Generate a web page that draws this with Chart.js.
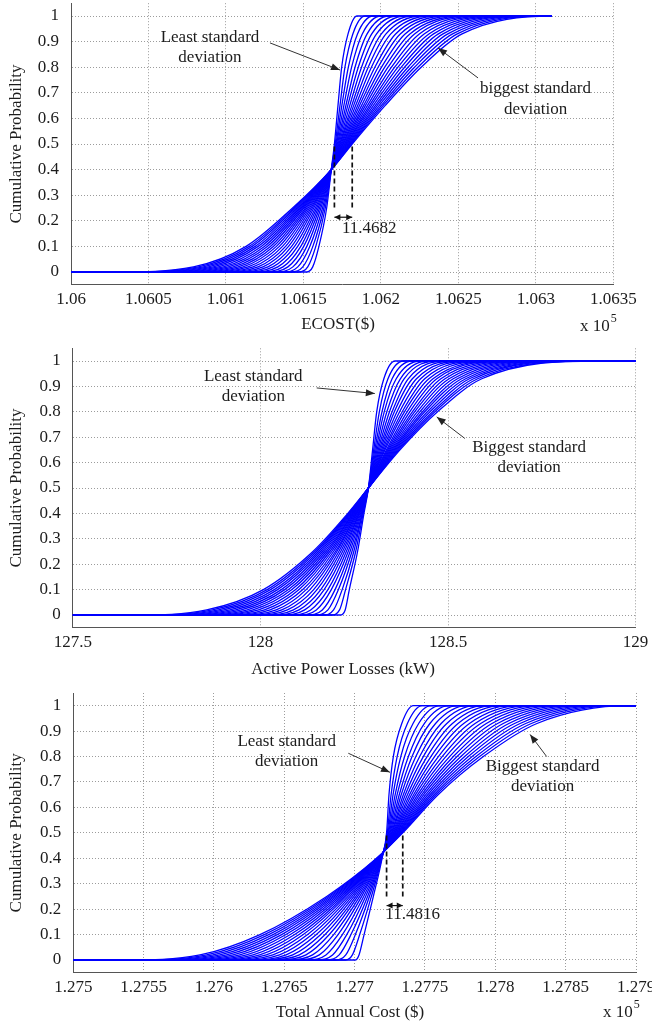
<!DOCTYPE html>
<html><head><meta charset="utf-8">
<script src="https://cdn.jsdelivr.net/npm/chart.js@4.4.0/dist/chart.umd.min.js"></script>
<style>
html,body{margin:0;padding:0;background:#fff;}
body{width:652px;height:1023px;position:relative;overflow:hidden;}
canvas{position:absolute;left:0;}
</style></head><body>
<canvas id="c1" width="652" height="340" style="top:0px"></canvas>
<canvas id="c2" width="652" height="345" style="top:340px"></canvas>
<canvas id="c3" width="652" height="338" style="top:685px"></canvas>
<script>
// ---------- DATA ----------
// cumulative probability levels at which the curves were read
const probLevels = [0, 0.02, 0.1, 0.25, 0.4, 0.5, 0.65, 0.8, 0.93, 1];
const probTicks = [0, 0.1, 0.2, 0.3, 0.4, 0.5, 0.6, 0.7, 0.8, 0.9, 1];
const probTickLabels = ['0', '0.1', '0.2', '0.3', '0.4', '0.5', '0.6', '0.7', '0.8', '0.9', '1'];

// Panel 1: ECOST ($). Each row = x of the 25 curves (least -> biggest std) at one probability level
const ecostTicks = [106000, 106050, 106100, 106150, 106200, 106250, 106300, 106350];
const ecostTickLabels = ['1.06', '1.0605', '1.061', '1.0615', '1.062', '1.0625', '1.063', '1.0635'];
const ecostTail = [106000, 106310.2];
const ecostAtLevel = [
  [106152, 106146.9, 106141.8, 106136.8, 106131.7, 106126.6, 106121.5, 106116.4, 106111.3, 106106.3, 106101.2, 106096.1, 106091, 106085.9, 106080.8, 106075.8, 106070.7, 106065.6, 106060.5, 106055.4, 106050.3, 106045.3, 106040.2, 106035.1, 106030],
  [106156, 106152.8, 106149.6, 106146.4, 106143.2, 106140, 106136.8, 106133.5, 106130.3, 106127.1, 106123.9, 106120.7, 106117.5, 106114.3, 106111.1, 106107.9, 106104.7, 106101.5, 106098.3, 106095, 106091.8, 106088.6, 106085.4, 106082.2, 106079],
  [106160, 106158, 106156.1, 106154.1, 106152.2, 106150.2, 106148.3, 106146.3, 106144.3, 106142.4, 106140.4, 106138.5, 106136.5, 106134.5, 106132.6, 106130.6, 106128.7, 106126.7, 106124.8, 106122.8, 106120.8, 106118.9, 106116.9, 106115, 106113],
  [106165, 106164.1, 106163.2, 106162.3, 106161.3, 106160.4, 106159.5, 106158.6, 106157.7, 106156.7, 106155.8, 106154.9, 106154, 106153.1, 106152.2, 106151.3, 106150.3, 106149.4, 106148.5, 106147.6, 106146.7, 106145.7, 106144.8, 106143.9, 106143],
  [106168, 106168, 106168, 106168, 106168, 106168, 106168, 106168, 106168, 106168, 106168, 106168, 106168, 106168, 106168, 106168, 106168, 106168, 106168, 106168, 106168, 106168, 106168, 106168, 106168],
  [106170, 106170.5, 106171, 106171.4, 106171.9, 106172.4, 106172.9, 106173.4, 106173.8, 106174.3, 106174.8, 106175.3, 106175.7, 106176.2, 106176.7, 106177.2, 106177.7, 106178.1, 106178.6, 106179.1, 106179.6, 106180.1, 106180.5, 106181, 106181.5],
  [106172.3, 106173.6, 106174.8, 106176.1, 106177.4, 106178.6, 106179.9, 106181.2, 106182.4, 106183.7, 106185, 106186.2, 106187.5, 106188.8, 106190, 106191.3, 106192.6, 106193.8, 106195.1, 106196.4, 106197.6, 106198.9, 106200.2, 106201.4, 106202.7],
  [106174.7, 106176.8, 106179, 106181.1, 106183.3, 106185.4, 106187.5, 106189.7, 106191.8, 106193.9, 106196.1, 106198.2, 106200.4, 106202.5, 106204.6, 106206.8, 106208.9, 106211, 106213.2, 106215.3, 106217.5, 106219.6, 106221.7, 106223.9, 106226],
  [106178.8, 106181.9, 106184.9, 106188, 106191.1, 106194.1, 106197.2, 106200.3, 106203.3, 106206.4, 106209.5, 106212.5, 106215.6, 106218.7, 106221.7, 106224.8, 106227.9, 106231, 106234, 106237.1, 106240.1, 106243.2, 106246.3, 106249.3, 106252.4],
  [106184.6, 106189.8, 106195.1, 106200.3, 106205.5, 106210.8, 106216, 106221.2, 106226.5, 106231.7, 106236.9, 106242.2, 106247.4, 106252.6, 106257.9, 106263.1, 106268.3, 106273.6, 106278.8, 106284, 106289.3, 106294.5, 106299.7, 106305, 106310.2]
];

// Panel 2: Active Power Losses (kW)
const lossTicks = [127.5, 128, 128.5, 129];
const lossTickLabels = ['127.5', '128', '128.5', '129'];
const lossTail = [127.5, 129];
const lossAtLevel = [
  [128.212, 128.189, 128.167, 128.144, 128.122, 128.099, 128.077, 128.054, 128.031, 128.009, 127.986, 127.964, 127.941, 127.918, 127.896, 127.873, 127.851, 127.828, 127.806, 127.783, 127.760, 127.738, 127.715, 127.693, 127.670],
  [128.226, 128.211, 128.195, 128.180, 128.165, 128.149, 128.134, 128.118, 128.103, 128.088, 128.072, 128.057, 128.042, 128.026, 128.011, 127.995, 127.980, 127.965, 127.949, 127.934, 127.919, 127.903, 127.888, 127.872, 127.857],
  [128.237, 128.227, 128.218, 128.208, 128.199, 128.189, 128.180, 128.170, 128.161, 128.151, 128.142, 128.132, 128.122, 128.113, 128.103, 128.094, 128.084, 128.075, 128.065, 128.056, 128.046, 128.037, 128.027, 128.018, 128.008],
  [128.259, 128.254, 128.249, 128.244, 128.239, 128.234, 128.229, 128.224, 128.219, 128.214, 128.209, 128.204, 128.200, 128.195, 128.190, 128.185, 128.180, 128.175, 128.170, 128.165, 128.160, 128.155, 128.150, 128.145, 128.140],
  [128.276, 128.274, 128.272, 128.271, 128.269, 128.267, 128.265, 128.263, 128.262, 128.260, 128.258, 128.256, 128.255, 128.253, 128.251, 128.249, 128.247, 128.246, 128.244, 128.242, 128.240, 128.238, 128.237, 128.235, 128.233],
  [128.288, 128.288, 128.288, 128.288, 128.288, 128.288, 128.288, 128.288, 128.288, 128.288, 128.288, 128.288, 128.288, 128.288, 128.288, 128.288, 128.288, 128.288, 128.288, 128.288, 128.288, 128.288, 128.288, 128.288, 128.288],
  [128.299, 128.302, 128.305, 128.308, 128.311, 128.314, 128.317, 128.320, 128.323, 128.326, 128.329, 128.332, 128.336, 128.339, 128.342, 128.345, 128.348, 128.351, 128.354, 128.357, 128.360, 128.363, 128.366, 128.369, 128.372],
  [128.310, 128.317, 128.324, 128.330, 128.337, 128.344, 128.351, 128.357, 128.364, 128.371, 128.378, 128.384, 128.391, 128.398, 128.405, 128.411, 128.418, 128.425, 128.432, 128.438, 128.445, 128.452, 128.459, 128.465, 128.472],
  [128.329, 128.340, 128.351, 128.362, 128.373, 128.383, 128.394, 128.405, 128.416, 128.427, 128.438, 128.449, 128.460, 128.470, 128.481, 128.492, 128.503, 128.514, 128.525, 128.536, 128.547, 128.557, 128.568, 128.579, 128.590],
  [128.359, 128.382, 128.405, 128.427, 128.450, 128.473, 128.496, 128.518, 128.541, 128.564, 128.587, 128.609, 128.632, 128.655, 128.678, 128.700, 128.723, 128.746, 128.769, 128.791, 128.814, 128.837, 128.860, 128.882, 128.905]
];

// Panel 3: Total Annual Cost ($)
const costTicks = [127500, 127550, 127600, 127650, 127700, 127750, 127800, 127850, 127900];
const costTickLabels = ['1.275', '1.2755', '1.276', '1.2765', '1.277', '1.2775', '1.278', '1.2785', '1.279'];
const costTail = [127500, 127900];
const costAtLevel = [
  [127700.3, 127693.5, 127686.7, 127679.9, 127673.1, 127666.2, 127659.4, 127652.6, 127645.8, 127639, 127632.2, 127625.4, 127618.6, 127611.7, 127604.9, 127598.1, 127591.3, 127584.5, 127577.7, 127570.9, 127564.1, 127557.2, 127550.4, 127543.6, 127536.8],
  [127703.1, 127698.4, 127693.7, 127689, 127684.3, 127679.6, 127674.9, 127670.1, 127665.4, 127660.7, 127656, 127651.3, 127646.6, 127641.9, 127637.2, 127632.5, 127627.8, 127623.1, 127618.4, 127613.6, 127608.9, 127604.2, 127599.5, 127594.8, 127590.1],
  [127706.7, 127703.6, 127700.5, 127697.4, 127694.4, 127691.3, 127688.2, 127685.1, 127682, 127679, 127675.9, 127672.8, 127669.7, 127666.6, 127663.5, 127660.5, 127657.4, 127654.3, 127651.2, 127648.1, 127645, 127642, 127638.9, 127635.8, 127632.7],
  [127713.3, 127711.9, 127710.5, 127709.2, 127707.8, 127706.4, 127705, 127703.6, 127702.2, 127700.9, 127699.5, 127698.1, 127696.7, 127695.3, 127693.9, 127692.6, 127691.2, 127689.8, 127688.4, 127687, 127685.6, 127684.3, 127682.9, 127681.5, 127680.1],
  [127719.5, 127719.3, 127719.2, 127719, 127718.9, 127718.7, 127718.5, 127718.4, 127718.2, 127718, 127717.9, 127717.7, 127717.6, 127717.4, 127717.2, 127717.1, 127716.9, 127716.7, 127716.6, 127716.4, 127716.3, 127716.1, 127715.9, 127715.8, 127715.6],
  [127722.7, 127723.2, 127723.7, 127724.1, 127724.6, 127725.1, 127725.6, 127726.1, 127726.5, 127727, 127727.5, 127728, 127728.5, 127728.9, 127729.4, 127729.9, 127730.4, 127730.8, 127731.3, 127731.8, 127732.3, 127732.8, 127733.2, 127733.7, 127734.2],
  [127724.4, 127725.9, 127727.3, 127728.8, 127730.2, 127731.7, 127733.1, 127734.6, 127736, 127737.5, 127739, 127740.4, 127741.9, 127743.3, 127744.8, 127746.2, 127747.7, 127749.1, 127750.6, 127752, 127753.5, 127754.9, 127756.4, 127757.8, 127759.3],
  [127727.5, 127730.2, 127732.8, 127735.5, 127738.2, 127740.8, 127743.5, 127746.2, 127748.8, 127751.5, 127754.2, 127756.8, 127759.5, 127762.2, 127764.8, 127767.5, 127770.2, 127772.8, 127775.5, 127778.2, 127780.8, 127783.5, 127786.2, 127788.8, 127791.5],
  [127733.5, 127737.5, 127741.5, 127745.5, 127749.5, 127753.5, 127757.5, 127761.5, 127765.5, 127769.5, 127773.5, 127777.5, 127781.6, 127785.6, 127789.6, 127793.6, 127797.6, 127801.6, 127805.6, 127809.6, 127813.6, 127817.6, 127821.6, 127825.6, 127829.6],
  [127741.7, 127748.1, 127754.5, 127760.9, 127767.3, 127773.6, 127780, 127786.4, 127792.8, 127799.2, 127805.6, 127812, 127818.4, 127824.7, 127831.1, 127837.5, 127843.9, 127850.3, 127856.7, 127863.1, 127869.5, 127875.9, 127882.3, 127888.6, 127895]
];

// ---------- STYLE / LAYOUT ----------
const FONT_FAMILY = '"Liberation Serif", "Times New Roman", serif';
const FONT_SIZE = 17;
const INK = '#1c1c1c';

const panels = [
  {
    id: 'c1', H: 340, rows: ecostAtLevel, tail: ecostTail, ticks: ecostTicks, tickLabels: ecostTickLabels,
    area: {left: 71, right: 613.3, top: 3.2, bottom: 284.8},
    xTitle: 'ECOST($)', xTitlePos: [338, 325], power: [580, 327],
    notes: [
      {lines: ['Least standard', 'deviation'], x: 106089.7, y: [0.917, 0.839]},
      {lines: ['biggest standard', 'deviation'], x: 106299.8, y: [0.718, 0.636]}
    ],
    arrows: [
      {from: [106128.4, 0.895], to: [106173.6, 0.789]},
      {from: [106262.7, 0.758], to: [106236.9, 0.875]}
    ],
    bracket: {level: 0.5, top: 0.49, bottom: 0.242, arrowY: 0.214, label: '11.4682', labelX: 106174.9, labelY: 0.171}
  },
  {
    id: 'c2', H: 345, rows: lossAtLevel, tail: lossTail, ticks: lossTicks, tickLabels: lossTickLabels,
    area: {left: 72.8, right: 635.6, top: 8.3, bottom: 287.7},
    xTitle: 'Active Power Losses (kW)', xTitlePos: [343, 330], power: null,
    notes: [
      {lines: ['Least standard', 'deviation'], x: 127.981, y: [0.94, 0.861]},
      {lines: ['Biggest standard', 'deviation'], x: 128.716, y: [0.659, 0.579]}
    ],
    arrows: [
      {from: [128.150, 0.894], to: [128.305, 0.872]},
      {from: [128.545, 0.695], to: [128.470, 0.780]}
    ],
    bracket: null
  },
  {
    id: 'c3', H: 338, rows: costAtLevel, tail: costTail, ticks: costTicks, tickLabels: costTickLabels,
    area: {left: 73.3, right: 636, top: 8, bottom: 287.7},
    xTitle: 'Total Annual Cost ($)', xTitlePos: [350, 328], power: [603, 328],
    notes: [
      {lines: ['Least standard', 'deviation'], x: 127651.7, y: [0.861, 0.78]},
      {lines: ['Biggest standard', 'deviation'], x: 127833.6, y: [0.76, 0.681]}
    ],
    arrows: [
      {from: [127695.5, 0.813], to: [127725.1, 0.738]},
      {from: [127836.5, 0.8], to: [127824.7, 0.887]}
    ],
    bracket: {level: 0.5, top: 0.49, bottom: 0.243, arrowY: 0.214, label: '11.4816', labelX: 127721.8, labelY: 0.177}
  }
];

function buildDatasets(rows, tail) {
  const n = rows[0].length;
  const sets = [];
  for (let i = 0; i < n; i++) {
    const pts = [{x: tail[0], y: 0}];
    for (let k = 0; k < probLevels.length; k++) pts.push({x: rows[k][i], y: probLevels[k]});
    pts.push({x: tail[1], y: 1});
    sets.push({
      data: pts, borderColor: '#0000ff', borderWidth: 1.3, pointRadius: 0,
      cubicInterpolationMode: 'monotone', fill: false
    });
  }
  return sets;
}

function arrowHead(ctx, x1, y1, x2, y2, len, half) {
  const a = Math.atan2(y2 - y1, x2 - x1);
  const c = Math.cos(a), s = Math.sin(a);
  ctx.beginPath();
  ctx.moveTo(x2, y2);
  ctx.lineTo(x2 - len * c + half * s, y2 - len * s - half * c);
  ctx.lineTo(x2 - len * c - half * s, y2 - len * s + half * c);
  ctx.closePath();
  ctx.fill();
}

function annotationPlugin(p) {
  return {
    id: 'notes_' + p.id,
    afterDraw(chart) {
      const ctx = chart.ctx;
      const xs = chart.scales.x, ys = chart.scales.y;
      const X = v => xs.getPixelForValue(v), Y = v => ys.getPixelForValue(v);
      const area = chart.chartArea;
      ctx.save();
      ctx.fillStyle = INK;
      ctx.strokeStyle = INK;
      ctx.font = FONT_SIZE + 'px ' + FONT_FAMILY;
      // y-axis title
      ctx.save();
      ctx.translate(17, (area.top + area.bottom) / 2);
      ctx.rotate(-Math.PI / 2);
      ctx.textAlign = 'center';
      ctx.textBaseline = 'middle';
      ctx.fillText('Cumulative Probability', 0, 0);
      ctx.restore();
      // x-axis title
      ctx.textAlign = 'center';
      ctx.textBaseline = 'middle';
      ctx.fillText(p.xTitle, p.xTitlePos[0], p.xTitlePos[1]);
      // x 10^5
      if (p.power) {
        ctx.textAlign = 'left';
        ctx.fillText('x 10', p.power[0], p.power[1]);
        const w = ctx.measureText('x 10').width;
        ctx.font = '12px ' + FONT_FAMILY;
        ctx.fillText('5', p.power[0] + w + 1, p.power[1] - 8);
        ctx.font = FONT_SIZE + 'px ' + FONT_FAMILY;
      }
      // text notes
      ctx.textAlign = 'center';
      p.notes.forEach(n => {
        n.lines.forEach((t, j) => ctx.fillText(t, X(n.x), Y(n.y[j])));
      });
      // arrows
      ctx.lineWidth = 1;
      ctx.strokeStyle = '#333';
      ctx.fillStyle = '#222';
      p.arrows.forEach(a => {
        const x1 = X(a.from[0]), y1 = Y(a.from[1]), x2 = X(a.to[0]), y2 = Y(a.to[1]);
        ctx.beginPath(); ctx.moveTo(x1, y1); ctx.lineTo(x2, y2); ctx.stroke();
        arrowHead(ctx, x1, y1, x2, y2, 9, 3.5);
      });
      // dashed bracket
      if (p.bracket) {
        const b = p.bracket;
        const k = probLevels.indexOf(b.level);
        const row = p.rows[k];
        const xl = X(row[0]), xr = X(row[row.length - 1]);
        ctx.strokeStyle = '#111';
        ctx.lineWidth = 1.7;
        ctx.setLineDash([5, 3]);
        ctx.beginPath();
        ctx.moveTo(xl, Y(b.top)); ctx.lineTo(xl, Y(b.bottom));
        ctx.moveTo(xr, Y(b.top)); ctx.lineTo(xr, Y(b.bottom));
        ctx.stroke();
        ctx.setLineDash([]);
        const ya = Y(b.arrowY);
        ctx.lineWidth = 1.2;
        ctx.beginPath(); ctx.moveTo(xl, ya); ctx.lineTo(xr, ya); ctx.stroke();
        ctx.fillStyle = '#111';
        arrowHead(ctx, xr, ya, xl, ya, 6, 3);
        arrowHead(ctx, xl, ya, xr, ya, 6, 3);
        ctx.fillStyle = INK;
        ctx.textAlign = 'left';
        ctx.fillText(b.label, X(b.labelX), Y(b.labelY));
      }
      ctx.restore();
    }
  };
}

panels.forEach(p => {
  const tickFont = {family: FONT_FAMILY, size: FONT_SIZE};
  new Chart(document.getElementById(p.id), {
    type: 'line',
    data: {datasets: buildDatasets(p.rows, p.tail)},
    options: {
      responsive: false, animation: false, devicePixelRatio: 1, events: [],
      layout: {padding: {left: 0, right: 652 - p.area.right, top: p.area.top, bottom: 0}},
      plugins: {legend: {display: false}, tooltip: {enabled: false}, title: {display: false}},
      scales: {
        x: {
          type: 'linear', min: p.ticks[0], max: p.ticks[p.ticks.length - 1],
          afterBuildTicks: s => { s.ticks = p.ticks.map(v => ({value: v})); },
          afterFit: s => { s.height = p.H - p.area.bottom; s.paddingLeft = 0; s.paddingRight = 0; },
          ticks: {callback: (v, i) => p.tickLabels[i], font: tickFont, color: INK, padding: 5, maxRotation: 0, autoSkip: false},
          grid: {color: '#9c9c9c', lineWidth: 1, drawTicks: false},
          border: {display: true, color: '#555', width: 1, dash: [1, 2]}
        },
        y: {
          type: 'linear', min: -0.05, max: 1.05,
          afterBuildTicks: s => { s.ticks = probTicks.map(v => ({value: v})); },
          afterFit: s => { s.width = p.area.left; s.paddingTop = 0; s.paddingBottom = 0; },
          ticks: {callback: (v, i) => probTickLabels[i], font: tickFont, color: INK, padding: 12, autoSkip: false},
          grid: {color: '#9c9c9c', lineWidth: 1, drawTicks: false},
          border: {display: true, color: '#555', width: 1, dash: [1, 2]}
        }
      }
    },
    plugins: [annotationPlugin(p)]
  });
});
</script>
</body></html>
